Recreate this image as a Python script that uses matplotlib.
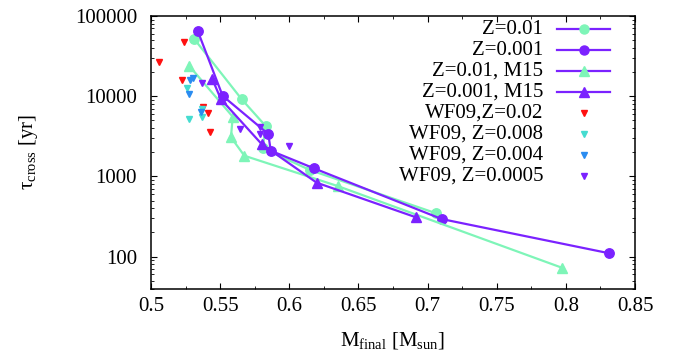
import numpy as np
import matplotlib
matplotlib.use("Agg")
import matplotlib.pyplot as plt
from matplotlib.lines import Line2D
from matplotlib.ticker import FixedLocator, FuncFormatter, LogLocator, MultipleLocator

plt.rcParams['font.family'] = ['Liberation Serif', 'DejaVu Serif']
plt.rcParams['mathtext.fontset'] = 'custom'
plt.rcParams['mathtext.rm'] = 'Liberation Serif'
plt.rcParams['mathtext.it'] = 'Liberation Serif:italic'

# model tracks
m_z01 = [0.5313, 0.5656, 0.5829, 0.5808, 0.6150, 0.7061]
t_z01 = [51600, 9150, 4250, 2240, 1200, 347]
m_z001 = [0.5338, 0.5518, 0.5848, 0.5866, 0.6179, 0.7102, 0.8314]
t_z001 = [65000, 10100, 3380, 2090, 1260, 294, 110]
m_z01_m15 = [0.5277, 0.5591, 0.5578, 0.5675, 0.6350, 0.7970]
t_z01_m15 = [23800, 5550, 3080, 1810, 758, 72.8]
m_z001_m15 = [0.5443, 0.5505, 0.5800, 0.6198, 0.6916]
t_z001_m15 = [16400, 9200, 2530, 835, 309]

# WF09 points
m_wf_02 = [0.5239, 0.5058, 0.5226, 0.5378, 0.5410, 0.5427]
t_wf_02 = [47800, 26500, 15900, 7400, 6240, 3550]
m_wf_008 = [0.5258, 0.5370, 0.5367, 0.5277]
t_wf_008 = [12500, 6900, 5460, 5150]
m_wf_004 = [0.5282, 0.5306, 0.5277, 0.5358]
t_wf_004 = [15900, 16900, 10600, 6410]
m_wf_0005 = [0.5367, 0.5647, 0.5785, 0.5788, 0.6000]
t_wf_0005 = [14500, 3900, 4100, 3400, 2390]

labels = ['Z=0.01', 'Z=0.001', 'Z=0.01, M15', 'Z=0.001, M15',
          'WF09,Z=0.02', 'WF09, Z=0.008', 'WF09, Z=0.004', 'WF09, Z=0.0005']

green = '#7ef5b8'
purple = '#7b22ff'
red = '#ff1010'
cyan = '#45dcd0'
blue = '#2a8cf0'
fs = 15

fig = plt.figure(figsize=(6.79, 3.58), dpi=100)
ax = fig.add_axes([0.2224, 0.1941, 0.7128, 0.7612])

ax.plot(m_z01, t_z01, '-o', color=green, lw=1.6, ms=6.8)
ax.plot(m_z001, t_z001, '-o', color=purple, lw=1.6, ms=6.8)
ax.plot(m_z01_m15, t_z01_m15, '-^', color=green, lw=1.6, ms=6.5)
ax.plot(m_z001_m15, t_z001_m15, '-^', color=purple, lw=1.6, ms=6.5)
ax.plot(m_wf_02, t_wf_02, 'v', color=red, ms=4.3, ls='none')
ax.plot(m_wf_008, t_wf_008, 'v', color=cyan, ms=4.3, ls='none')
ax.plot(m_wf_004, t_wf_004, 'v', color=blue, ms=4.3, ls='none')
ax.plot(m_wf_0005, t_wf_0005, 'v', color=purple, ms=4.3, ls='none')

ax.set_yscale('log')
ax.set_xlim(0.5, 0.85)
ax.set_ylim(40, 100000)
ax.xaxis.set_major_locator(MultipleLocator(0.05))
ax.xaxis.set_minor_locator(MultipleLocator(0.025))
ax.xaxis.set_major_formatter(FuncFormatter(lambda v, p: ('%.2f' % v).rstrip('0')))
ax.yaxis.set_major_locator(FixedLocator([100, 1000, 10000, 100000]))
ax.yaxis.set_minor_locator(LogLocator(base=10, subs=np.arange(2, 10)))
ax.yaxis.set_major_formatter(FuncFormatter(lambda v, p: '%d' % v))
ax.tick_params(which='both', direction='in', top=True, right=True, labelsize=fs)
ax.tick_params(axis='x', pad=6)
ax.tick_params(axis='y', pad=10)
ax.tick_params(which='major', length=4, width=0.8)
ax.tick_params(which='minor', length=2, width=0.6)
for s in ax.spines.values():
    s.set_linewidth(1.1)

ax.set_xlabel('M$_{\\mathrm{final}}$ [M$_{\\mathrm{sun}}$]', fontsize=fs, va='center')
ax.set_ylabel('τ$_{\\mathrm{cross}}$ [yr]', fontsize=fs, va='center')
ax.xaxis.set_label_coords(0.5, -0.189)
ax.yaxis.set_label_coords(-0.254, 0.5)

# legend drawn gnuplot style: right-aligned text, purple sample lines
styles = [('o', green, 6.5, True), ('o', purple, 6.5, True),
          ('^', green, 6.5, True), ('^', purple, 6.5, True),
          ('v', red, 4.3, False), ('v', cyan, 4.3, False),
          ('v', blue, 4.3, False), ('v', purple, 4.3, False)]
y0 = 1 - (29 - 16) / 272.5
dy = 21 / 272.5
xt = (543 - 151) / 484
xl0, xl1 = (557 - 151) / 484, (610 - 151) / 484
for i, (lab, (mk, col, ms, line)) in enumerate(zip(labels, styles)):
    yy = y0 - i * dy
    ax.text(xt, yy, lab, transform=ax.transAxes, ha='right', va='center', fontsize=fs)
    if line:
        ax.add_line(Line2D([xl0, xl1], [yy, yy], transform=ax.transAxes, color=purple, lw=1.6))
    ax.add_line(Line2D([(xl0 + xl1) / 2], [yy], transform=ax.transAxes, marker=mk,
                       color=col, ms=ms, ls='none'))

fig.savefig('out.png', dpi=100)
